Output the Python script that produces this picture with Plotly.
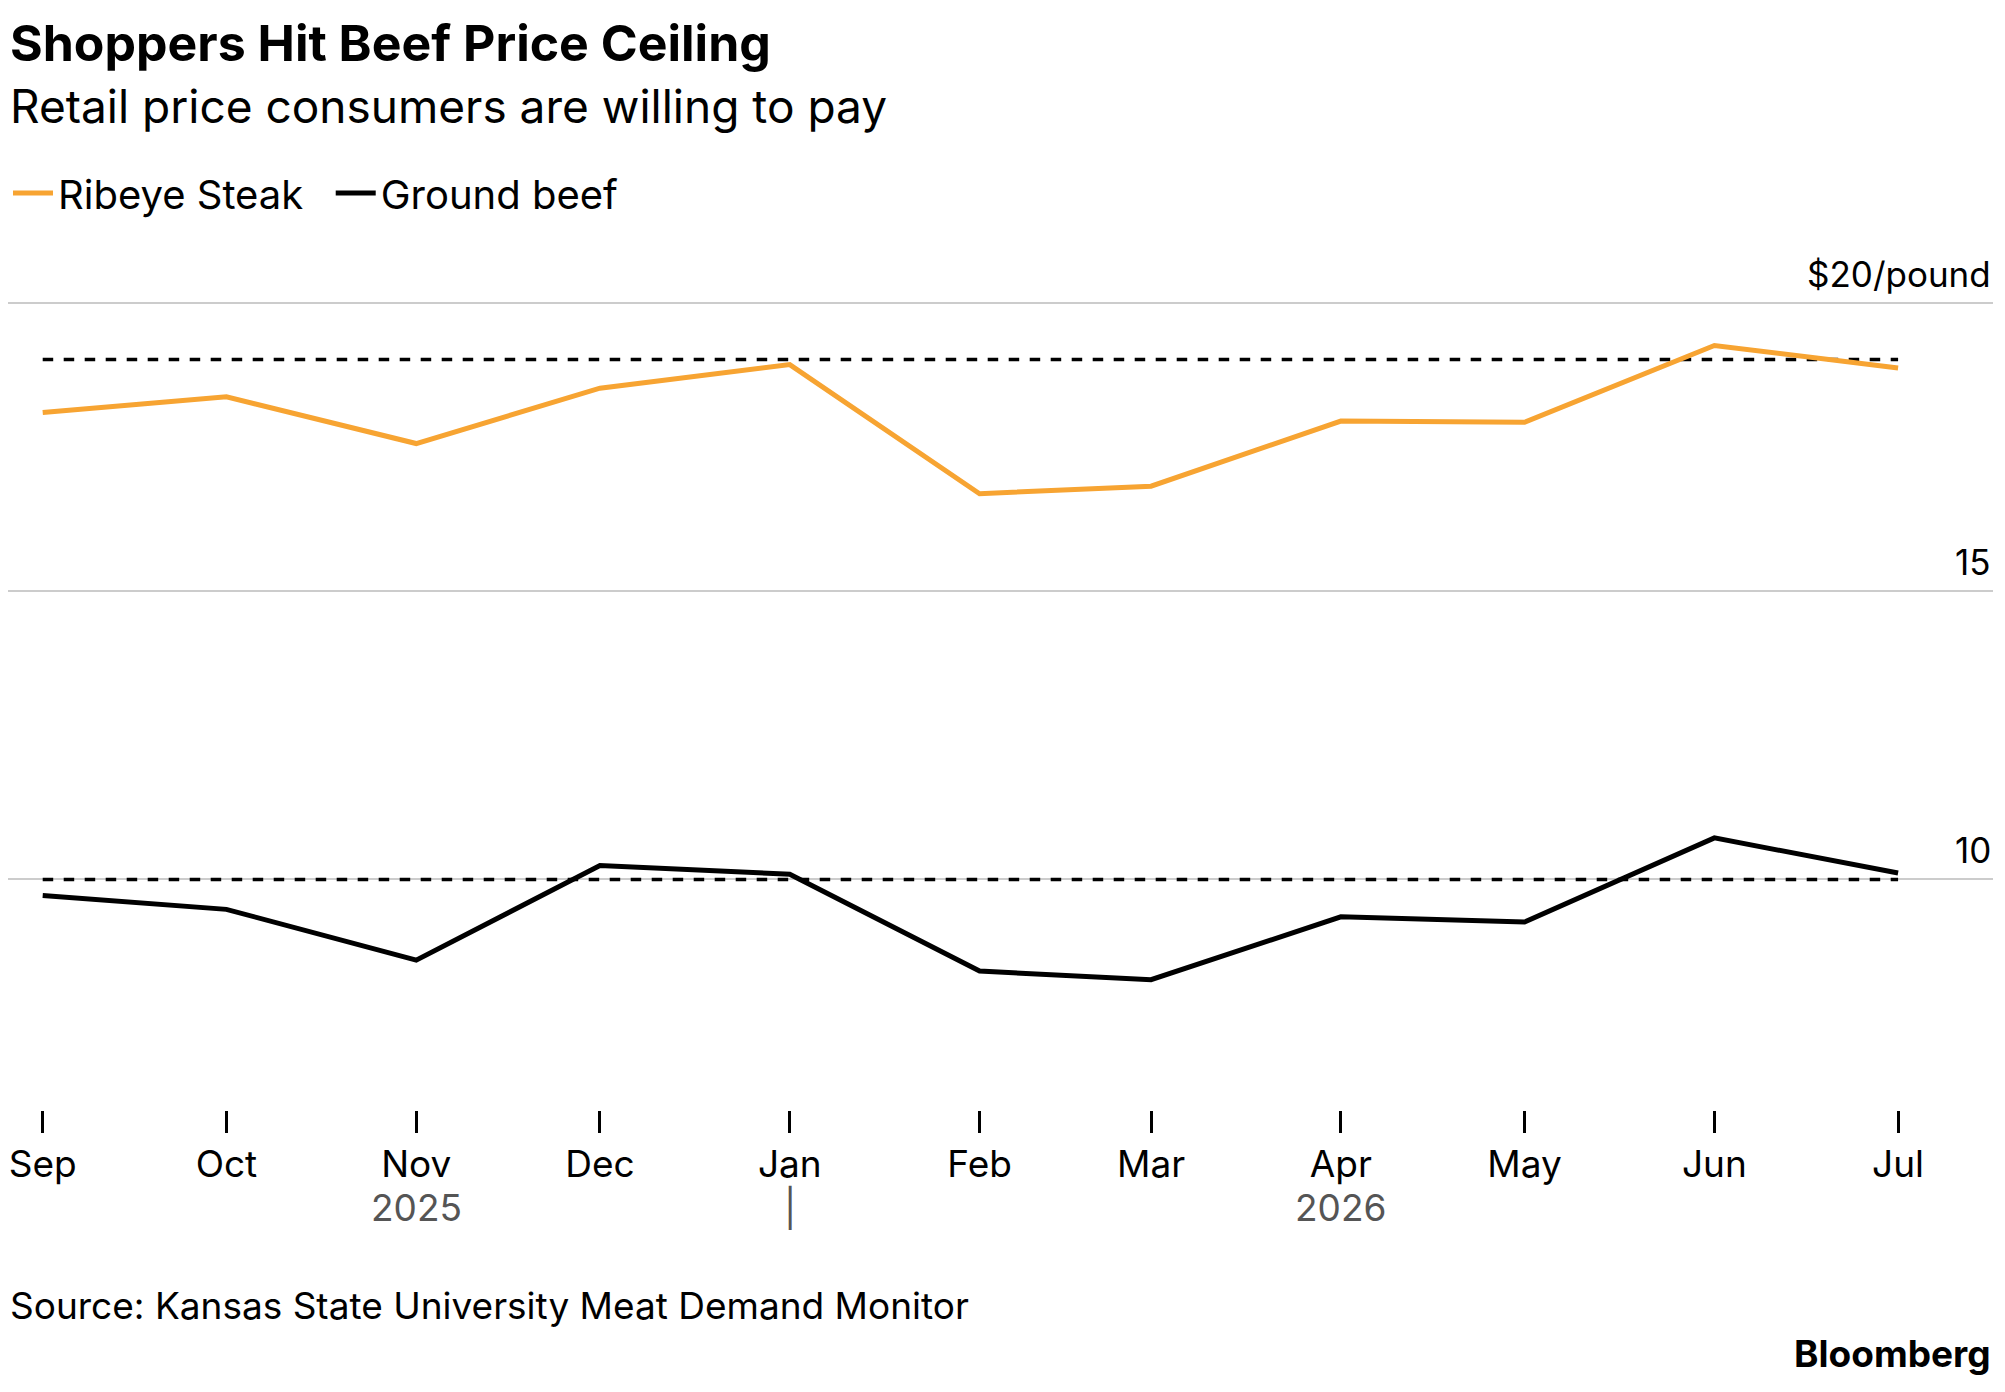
import plotly.graph_objects as go

months = ["2025-09-01","2025-10-01","2025-11-01","2025-12-01","2026-01-01","2026-02-01",
          "2026-03-01","2026-04-01","2026-05-01","2026-06-01","2026-07-01"]
tick_labels = ["Sep","Oct","Nov","Dec","Jan","Feb","Mar","Apr","May","Jun","Jul"]
ribeye = [18.10,18.37,17.56,18.52,18.93,16.69,16.82,17.95,17.93,19.26,18.87]
ground = [9.72,9.48,8.60,10.24,10.09,8.41,8.26,9.35,9.26,10.72,10.11]
ribeye_ceiling = 19.02
ground_ceiling = 10.0
y_ticks = [10,15,20]
y_tick_labels = ["10","15","$20/pound"]

F = "Inter, Roboto, sans-serif"
ORANGE = "#f7a432"
W, H, T, B = 1985, 1372, 292, 270
PH = H - T - B
def py(px):  # pixel from top -> paper y
    return (H - B - px) / PH

fig = go.Figure()
fig.add_trace(go.Scatter(x=[months[0],months[-1]], y=[ribeye_ceiling]*2, mode="lines",
    line=dict(color="black", width=3.5, dash="dash"), showlegend=False))
fig.add_trace(go.Scatter(x=[months[0],months[-1]], y=[ground_ceiling]*2, mode="lines",
    line=dict(color="black", width=3.5, dash="dash"), showlegend=False))
fig.add_trace(go.Scatter(x=months, y=ribeye, mode="lines", name="Ribeye Steak  ",
    line=dict(color=ORANGE, width=5)))
fig.add_trace(go.Scatter(x=months, y=ground, mode="lines", name="Ground beef",
    line=dict(color="black", width=5)))

for v, t in zip(y_ticks, y_tick_labels):
    fig.add_annotation(x=1, xref="paper", y=v, yref="y", text=t, showarrow=False,
        xanchor="right", yanchor="bottom", yshift=6, font=dict(size=35, color="black", family=F))

for x, t in [("2025-11-01","2025"),("2026-04-01","2026"),("2026-01-01","|")]:
    fig.add_annotation(x=x, y=py(1199), yref="paper", text=t, showarrow=False,
        font=dict(size=37, color="#555", family=F), yanchor="middle")

fig.add_annotation(x=0, xref="paper", y=py(35), yref="paper", xanchor="left", yanchor="middle",
    text="<b>Shoppers Hit Beef Price Ceiling</b>", showarrow=False, font=dict(size=50, family=F))
fig.add_annotation(x=0, xref="paper", y=py(98), yref="paper", xanchor="left", yanchor="middle",
    text="Retail price consumers are willing to pay", showarrow=False, font=dict(size=46, family=F))
fig.add_annotation(x=0, xref="paper", y=py(1297), yref="paper", xanchor="left", yanchor="middle",
    text="Source: Kansas State University Meat Demand Monitor", showarrow=False,
    font=dict(size=37, family=F))
fig.add_annotation(x=1, xref="paper", y=py(1345), yref="paper", xanchor="right", yanchor="middle",
    text="<b>Bloomberg</b>", showarrow=False, font=dict(size=37, family=F))

fig.update_layout(
    width=W, height=H, paper_bgcolor="white", plot_bgcolor="white",
    margin=dict(l=0, r=0, t=T, b=B),
    font=dict(family=F, color="black"),
    legend=dict(orientation="h", x=0, xanchor="left", y=py(185), yanchor="middle",
        font=dict(size=40, family=F), itemwidth=40, bgcolor="rgba(0,0,0,0)"),
    xaxis=dict(type="date", range=["2025-08-26 08:00","2026-07-16 12:00"],
        tickvals=months, ticktext=tick_labels, ticks="outside", ticklen=22, tickwidth=2.5,
        tickcolor="black", showgrid=False, showline=False, zeroline=False,
        tickfont=dict(size=37, family=F, color="black")),
    yaxis=dict(range=[6,20.05], tickvals=y_ticks, showticklabels=False, showgrid=True,
        gridcolor="#cccccc", gridwidth=2, zeroline=False, showline=False),
)
fig.write_html("out.html")
